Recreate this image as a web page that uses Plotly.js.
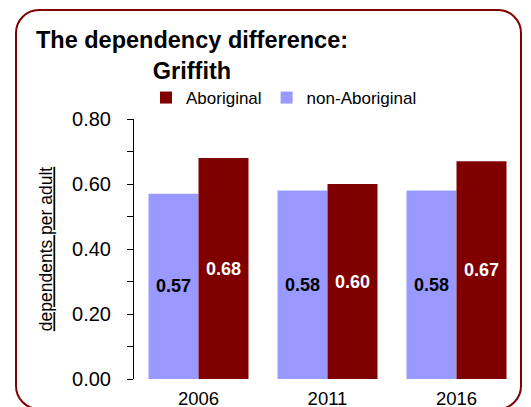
<!DOCTYPE html>
<html>
<head>
<meta charset="utf-8">
<script src="https://cdn.plot.ly/plotly-3.0.1.min.js"></script>
<style>
  html, body { margin: 0; padding: 0; background: #fff; }
  #wrap { position: relative; width: 531px; height: 407px; overflow: hidden; }
  #chart { position: absolute; left: 0; top: 0; width: 531px; height: 407px; }
  #frame { position: absolute; left: 15px; top: 9px; width: 503px; height: 397px;
           border: 2.5px solid #800000; border-radius: 24px; pointer-events: none; }
</style>
</head>
<body>
<div id="wrap">
  <div id="chart"></div>
  <div id="frame"></div>
</div>
<script>
const years = ['2006', '2011', '2016'];
const nonAboriginal = [0.57, 0.58, 0.58];
const aboriginal = [0.68, 0.60, 0.67];
const yTickVals = [0, 0.2, 0.4, 0.6, 0.8];
const yTickText = ['0.00', '0.20', '0.40', '0.60', '0.80'];
const yMinorVals = [0.1, 0.3, 0.5, 0.7];

const FONT = 'Arial, "Liberation Sans", Helvetica, sans-serif';

const traces = [
  {
    type: 'bar', name: 'non-Aboriginal', x: years, y: nonAboriginal,
    marker: { color: '#9999FF', line: { width: 0 } },
    texttemplate: '<b>%{y:.2f}</b>', textposition: 'inside', insidetextanchor: 'middle',
    textangle: 0, constraintext: 'none',
    insidetextfont: { family: FONT, size: 18, color: '#000000' },
    hoverinfo: 'skip'
  },
  {
    type: 'bar', name: 'Aboriginal', x: years, y: aboriginal,
    marker: { color: '#800000', line: { width: 0 } },
    texttemplate: '<b>%{y:.2f}</b>', textposition: 'inside', insidetextanchor: 'middle',
    textangle: 0, constraintext: 'none',
    insidetextfont: { family: FONT, size: 18, color: '#ffffff' },
    hoverinfo: 'skip'
  }
];

const layout = {
  width: 531, height: 407,
  margin: { l: 134, r: 10, t: 119, b: 28, pad: 0 },
  paper_bgcolor: '#ffffff', plot_bgcolor: '#ffffff',
  font: { family: FONT, color: '#000000' },
  barmode: 'group', bargap: 0.225, bargroupgap: 0,
  showlegend: true,
  title: {
    text: '<b>The dependency difference:<br>Griffith</b>',
    font: { family: FONT, size: 23.5, color: '#000000' },
    xref: 'container', x: 192 / 531, xanchor: 'center',
    yref: 'container', y: 1 - 48 / 407, yanchor: 'top'
  },
  legend: {
    orientation: 'h', traceorder: 'reversed',
    xref: 'container', yref: 'container',
    x: 146 / 531, xanchor: 'left', y: 1 - 80 / 407, yanchor: 'top',
    font: { family: FONT, size: 17, color: '#000000' },
    bgcolor: 'rgba(0,0,0,0)', itemclick: false, itemdoubleclick: false
  },
  xaxis: {
    type: 'category', range: [-0.5, 2.5],
    showline: false, ticks: '', showgrid: false, zeroline: false,
    tickfont: { family: FONT, size: 18.5, color: '#000000' },
    ticklabelstandoff: 6
  },
  yaxis: {
    range: [0, 0.8], showline: true, linecolor: '#000000', linewidth: 1,
    ticks: 'outside', ticklen: 6, tickcolor: '#000000', tickwidth: 1,
    tickvals: yTickVals, ticktext: yTickText,
    minor: { tickvals: yMinorVals, ticks: 'outside', ticklen: 6, tickcolor: '#000000', tickwidth: 1 },
    showgrid: false, zeroline: false,
    tickfont: { family: FONT, size: 20, color: '#000000' },
    ticklabelstandoff: 12,
    title: {
      text: '<u>dependents per adult</u>',
      font: { family: FONT, size: 17.5, color: '#000000' },
      standoff: 14
    }
  }
};

Plotly.newPlot('chart', traces, layout, { staticPlot: true, displayModeBar: false });
</script>
</body>
</html>
